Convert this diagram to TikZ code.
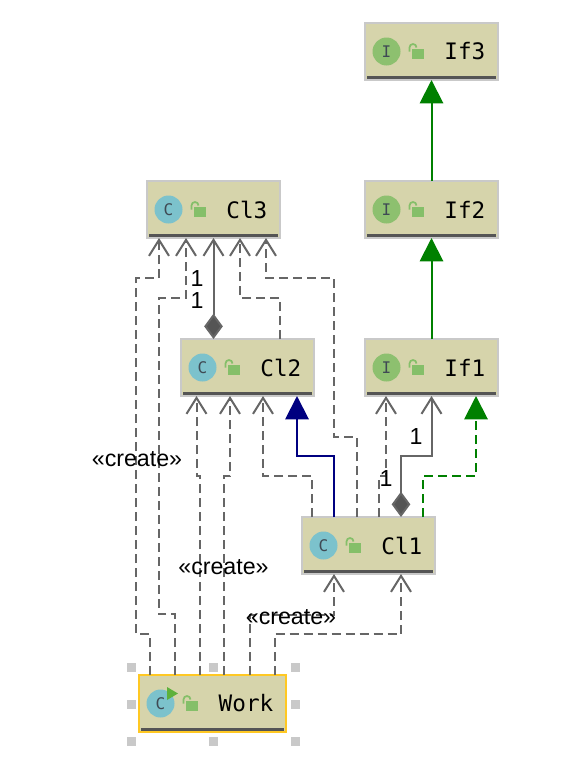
\documentclass[tikz,border=0pt]{standalone}
\usepackage{fontspec}
\setmainfont{Liberation Sans}
\setmonofont{DejaVu Sans Mono}
\usetikzlibrary{arrows.meta,
                calc}
\definecolor{boxfill}{HTML}{D6D4AB}
\definecolor{boxrim}{HTML}{C9C9C9}
\definecolor{boxrule}{HTML}{555555}
\definecolor{runrim}{HTML}{FFC823}
\definecolor{linkgray}{HTML}{666666}
\definecolor{lockgreen}{HTML}{85BF69}
\definecolor{runtip}{HTML}{5DB13B}
\definecolor{classblue}{HTML}{7CC2CC}
\definecolor{ifacegreen}{HTML}{8DC06F}
\definecolor{badgeink}{HTML}{3F4A54}
\definecolor{implnavy}{HTML}{000080}
\definecolor{implgreen}{HTML}{008000}
\newcommand{\lockicon}[1]{
    \fill[lockgreen] ($(#1.west)+(47,-2.5)$) rectangle ++(12,10);
    \draw[lockgreen, line width=1.3pt] ($(#1.west)+(44.5,0)$) -- ++(0,-4) arc[start angle=180, end angle=360, radius=3.5];
}
\newcommand{\rulebar}[1]{
    \fill[boxrule] ($(#1.south west)+(2,-4)$) rectangle ($(#1.south east)+(-2,-1)$);
}
\begin{document}
\begin{tikzpicture}[
x=0.75pt, y=-0.75pt,
box/.style = {draw=boxrim, fill=boxfill, line width=1.5pt, outer sep=0pt,
              minimum width=99.75pt, minimum height=42.75pt, inner xsep=9.5pt,
              text width=80.75pt, align=right, font=\ttfamily\fontsize{17}{20}\selectfont},
runbox/.style = {box, draw=runrim, minimum width=110.25pt, text width=91.25pt},
badge/.style = {circle, minimum size=21pt, inner sep=0pt, outer sep=0pt,
                font=\ttfamily\fontsize{12}{12}\selectfont, text=badgeink},
grip/.style = {fill=boxrim, minimum size=7pt, inner sep=0pt},
tag/.style = {font=\fontsize{17.4}{20}\selectfont, inner sep=0pt},
link/.style = {draw=linkgray, line width=1.5pt, -{Straight Barb[length=12pt,width=15pt]}},
dep/.style = {link, dash pattern=on 6.75pt off 3.75pt},
owner/.style = {link, {Diamond[length=19pt,width=14pt,fill=boxrule]}-{Straight Barb[length=12pt,width=15pt]}},
solidtip/.style = {-{Triangle[length=17.5pt,width=17.5pt]}, line width=1.5pt}
]
\useasboundingbox (0,0) rectangle (563,778);
\fill[white] (0,0) rectangle (563,778);
% selection handles
\foreach \hx/\hy in {131.5/667.5, 213.5/667.5, 295.5/667.5, 131.5/704.5,
                     295.5/704.5, 131.5/741.5, 213.5/741.5, 295.5/741.5}
    \node[grip] (h-\hx-\hy) at (\hx,\hy) {};
% classes
\node[box] (if3) at (431.5,51.5) {If3};
\node[box] (if2) at (431.5,209.5) {If2};
\node[box] (if1) at (431.5,367.5) {If1};
\node[box] (cl3) at (213.5,209.5) {Cl3};
\node[box] (cl2) at (247.5,367.5) {Cl2};
\node[box] (cl1) at (368.5,545.5) {Cl1};
\node[runbox] (work) at (212.5,703.5) {Work};
\foreach \n/\l/\c in {if3/I/ifacegreen, if2/I/ifacegreen, if1/I/ifacegreen,
                      cl3/C/classblue, cl2/C/classblue, cl1/C/classblue, work/C/classblue} {
    \node[badge, fill=\c] (\n-badge) at ($(\n.west)+(21.5,0)$) {\l};
    \lockicon{\n}
    \rulebar{\n}
}
\fill[runtip] (167,687) -- (178,693.5) -- (167,700) -- cycle;
% edges
\draw[dep] ($(work.north)+(-62.5,0)$) |- (136,634) |- (159,278) -- ($(cl3.south)+(-54.5,0)$);
\draw[dep] ($(work.north)+(-37.5,0)$) |- (158.5,614) |- (186,298) -- ($(cl3.south)+(-27.5,0)$);
\draw[dep] ($(work.north)+(-13,0)$) |- (196.5,476) -- ($(cl2.south)+(-51,0)$);
\draw[dep] ($(work.north)+(11.5,0)$) |- (230,476) -- ($(cl2.south)+(-17.5,0)$);
\draw[dep] ($(work.north)+(37,0)$) |- (334,615) -- ($(cl1.south)+(-34.5,0)$);
\draw[dep] ($(work.north)+(62,0)$) |- (401,634) -- ($(cl1.south)+(32.5,0)$);
\draw[owner] ($(cl2.north)+(-34,0)$) -- (cl3.south);
\draw[dep] ($(cl2.north)+(32.5,0)$) |- (240,298) -- ($(cl3.south)+(26.5,0)$);
\draw[dep] ($(cl1.north)+(-56.5,0)$) |- (263,476) -- ($(cl2.south)+(15.5,0)$);
\draw[draw=implnavy, solidtip] ($(cl1.north)+(-34.5,0)$) |- (297,456) -- ($(cl2.south)+(49.5,0)$);
\draw[dep] ($(cl1.north)+(-12,0)$) |- (334,437) |- (266,278) -- ($(cl3.south)+(52.5,0)$);
\draw[dep] ($(cl1.north)+(10.5,0)$) |- (386,476) -- ($(if1.south)+(-45.5,0)$);
\draw[owner] ($(cl1.north)+(32.5,0)$) |- (431.5,456) -- (if1.south);
\draw[draw=implgreen, solidtip, dash pattern=on 6.75pt off 3.75pt] ($(cl1.north)+(54.5,0)$) |- (476,476) -- ($(if1.south)+(44.5,0)$);
\draw[draw=implgreen, solidtip] (if1.north) -- (if2.south);
\draw[draw=implgreen, solidtip] (if2.north) -- (if3.south);
% labels
\node[tag] (one-a) at (197,279) {1};
\node[tag] (one-b) at (197,301) {1};
\node[tag] (one-c) at (386,479) {1};
\node[tag] (one-d) at (416,437) {1};
\node[tag] (make-a) at (137,459) {«create»};
\node[tag] (make-b) at (223.5,567) {«create»};
\node[tag] (make-c) at (291,617) {«create»};
\end{tikzpicture}
\end{document}
